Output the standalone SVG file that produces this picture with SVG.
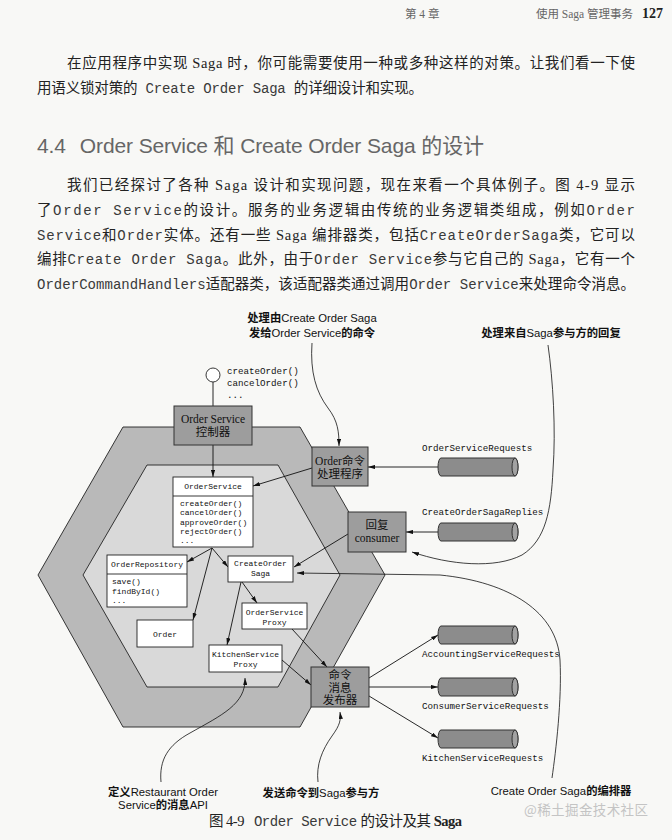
<svg xmlns="http://www.w3.org/2000/svg" width="672" height="840" viewBox="0 0 672 840">
<defs>
<marker id="ah" viewBox="0 0 10 6" refX="10" refY="3" markerWidth="7" markerHeight="4.4" orient="auto" markerUnits="userSpaceOnUse"><path d="M0,0 L10,3 L0,6 z" fill="#111"/></marker>
<style>
.body{font-family:"Liberation Serif","Noto Sans CJK SC",serif;font-size:14.5px;fill:#222}
.mono{font-family:"Liberation Mono",monospace;font-size:14px;fill:#3a3a3a}
.head{font-family:"Liberation Sans","Noto Sans CJK SC",sans-serif;font-size:21px;fill:#666}
.hdr{font-family:"Liberation Serif","Noto Sans CJK SC",serif;font-size:11.5px;fill:#666}
.pg{font-family:"Liberation Serif",serif;font-size:14px;font-weight:bold;fill:#222}
.lbl{font-family:"Liberation Sans","Noto Sans CJK SC",sans-serif;font-size:11.3px;fill:#111;text-anchor:middle}
.cj{font-weight:bold}
.bx{font-family:"Liberation Serif","Noto Sans CJK SC",serif;font-size:11.5px;fill:#111;text-anchor:middle}
.m8{font-family:"Liberation Mono",monospace;font-size:8px;fill:#111}
.m8c{font-family:"Liberation Mono",monospace;font-size:8px;fill:#111;text-anchor:middle}
.m9{font-family:"Liberation Mono",monospace;font-size:9.2px;fill:#111}
.dark{fill:#9d9d9d;stroke:#333;stroke-width:1}
.white{fill:#fff;stroke:#222;stroke-width:0.9}
.cyl{fill:#8c8c8c;stroke:#333;stroke-width:1}
.cap{fill:#a2a2a2;stroke:#333;stroke-width:1}
.ln{fill:none;stroke:#111;stroke-width:0.9}
.cv{fill:none;stroke:#111;stroke-width:0.8}
</style>
</defs>
<rect x="0" y="0" width="672" height="840" fill="#f8f8f6"/>

<g id="page-text">
<text class="hdr" x="405" y="18">第 4 章</text>
<text class="hdr" x="536" y="18">使用 Saga 管理事务</text>
<text class="pg" x="642" y="18">127</text>
<text class="body" x="67" y="68" textLength="568" lengthAdjust="spacing">在应用程序中实现 Saga 时，你可能需要使用一种或多种这样的对策。让我们看一下使</text>
<text class="body" x="37" y="93" textLength="386" lengthAdjust="spacing">用语义锁对策的<tspan class="mono"> Create Order Saga </tspan>的详细设计和实现。</text>
<text class="head" x="37" y="153" textLength="447" lengthAdjust="spacing">4.4<tspan dx="14">Order Service 和 Create Order Saga 的设计</tspan></text>
<text class="body" x="67" y="190" textLength="568" lengthAdjust="spacing">我们已经探讨了各种 Saga 设计和实现问题，现在来看一个具体例子。图 4-9 显示</text>
<text class="body" x="37" y="215" textLength="598" lengthAdjust="spacing">了<tspan class="mono">Order Service</tspan>的设计。服务的业务逻辑由传统的业务逻辑类组成，例如<tspan class="mono">Order</tspan></text>
<text class="body" x="37" y="240" textLength="598" lengthAdjust="spacing"><tspan class="mono">Service</tspan>和<tspan class="mono">Order</tspan>实体。还有一些 Saga 编排器类，包括<tspan class="mono">CreateOrderSaga</tspan>类，它可以</text>
<text class="body" x="37" y="264" textLength="598" lengthAdjust="spacing">编排<tspan class="mono">Create Order Saga</tspan>。此外，由于<tspan class="mono">Order Service</tspan>参与它自己的 Saga，它有一个</text>
<text class="body" x="37" y="289" textLength="598" lengthAdjust="spacing"><tspan class="mono">OrderCommandHandlers</tspan>适配器类，该适配器类通过调用<tspan class="mono">Order Service</tspan>来处理命令消息。</text>
</g>

<g id="hexagons">
<polygon points="123,427 300,427 385,575 300,727 123,727 38,575" fill="#b9b9b9" stroke="#222" stroke-width="0.9"/>
<polygon points="147,465 278,465 340,575 278,687 147,687 83,575" fill="#d9d9d9" stroke="#222" stroke-width="0.9"/>
</g>

<g id="connectors">
<line class="ln" x1="213" y1="382" x2="213" y2="406"/>
<line class="ln" x1="213" y1="445" x2="213" y2="477" marker-end="url(#ah)"/>
<line class="ln" x1="312" y1="468" x2="253" y2="486" marker-end="url(#ah)"/>
<line class="ln" x1="348" y1="534" x2="294" y2="567" marker-end="url(#ah)"/>
<line class="ln" x1="438" y1="467" x2="368" y2="467" marker-end="url(#ah)"/>
<line class="ln" x1="438" y1="532" x2="406" y2="532" marker-end="url(#ah)"/>
<line class="ln" x1="212" y1="548" x2="187" y2="562" marker-end="url(#ah)"/>
<line class="ln" x1="212" y1="548" x2="228" y2="567" marker-end="url(#ah)"/>
<line class="ln" x1="212" y1="548" x2="193" y2="620" marker-end="url(#ah)"/>
<line class="ln" x1="242" y1="582" x2="257" y2="603" marker-end="url(#ah)"/>
<line class="ln" x1="241" y1="582" x2="227" y2="645" marker-end="url(#ah)"/>
<line class="ln" x1="292" y1="629" x2="327" y2="667" marker-end="url(#ah)"/>
<line class="ln" x1="282" y1="660" x2="311" y2="685" marker-end="url(#ah)"/>
<line class="ln" x1="369" y1="678" x2="438" y2="635" marker-end="url(#ah)"/>
<line class="ln" x1="369" y1="687" x2="438" y2="687" marker-end="url(#ah)"/>
<line class="ln" x1="369" y1="696" x2="438" y2="738" marker-end="url(#ah)"/>
<path class="cv" d="M312,343 C310,372 316,392 328,408 C338,421 339,432 339,446" marker-end="url(#ah)"/>
<path class="cv" d="M548,345 C553,380 556,430 553,470 C551,510 546,540 522,555 C495,569 450,565 412,552" marker-end="url(#ah)"/>
<path class="cv" d="M552,778 C556,750 562,700 560,660 C557,612 510,582 440,575 L297,573" marker-end="url(#ah)"/>
<path class="cv" d="M161,782 C159,760 168,745 190,733 C222,715 246,704 245,678" marker-end="url(#ah)"/>
<path class="cv" d="M318,782 C316,765 322,750 332,736 C340,725 341,720 340,712" marker-end="url(#ah)"/>
</g>

<g id="api">
<circle cx="213" cy="375" r="7" fill="#fff" stroke="#222" stroke-width="0.9"/>
<text class="m9" x="227" y="374">createOrder()</text>
<text class="m9" x="227" y="386">cancelOrder()</text>
<text class="m9" x="227" y="398">...</text>
</g>

<g id="controller">
<rect class="dark" x="174" y="406" width="78" height="39"/>
<text class="bx" x="213" y="423">Order Service</text>
<text class="bx" x="213" y="436">控制器</text>
</g>

<g id="command-handler">
<rect class="dark" x="312" y="447" width="56" height="39"/>
<text class="bx" x="340" y="465">Order命令</text>
<text class="bx" x="340" y="478">处理程序</text>
</g>

<g id="reply-consumer">
<rect class="dark" x="348" y="512" width="58" height="40"/>
<text class="bx" x="377" y="529">回复</text>
<text class="bx" x="377" y="542">consumer</text>
</g>

<g id="publisher">
<rect class="dark" x="311" y="667" width="58" height="40" fill="#979797"/>
<text class="bx" x="340" y="679">命令</text>
<text class="bx" x="340" y="691.5">消息</text>
<text class="bx" x="340" y="704">发布器</text>
</g>

<g id="order-service">
<rect class="white" x="173" y="477" width="80" height="70"/>
<line x1="173" y1="496" x2="253" y2="496" stroke="#222" stroke-width="0.9"/>
<text class="m8c" x="213" y="489">OrderService</text>
<text class="m8" x="180" y="506">createOrder()</text>
<text class="m8" x="180" y="515">cancelOrder()</text>
<text class="m8" x="180" y="524.5">approveOrder()</text>
<text class="m8" x="180" y="534">rejectOrder()</text>
<text class="m8" x="180" y="543">...</text>
</g>

<g id="order-repository">
<rect class="white" x="107" y="555" width="80" height="52"/>
<line x1="107" y1="574" x2="187" y2="574" stroke="#222" stroke-width="0.9"/>
<text class="m8c" x="147" y="567">OrderRepository</text>
<text class="m8" x="112" y="584">save()</text>
<text class="m8" x="112" y="594">findById()</text>
<text class="m8" x="112" y="603">...</text>
</g>

<g id="create-order-saga">
<rect class="white" x="228" y="556" width="65" height="26"/>
<text class="m8c" x="260.5" y="566">CreateOrder</text>
<text class="m8c" x="260.5" y="576">Saga</text>
</g>

<g id="order">
<rect class="white" x="137" y="620" width="56" height="27"/>
<text class="m8c" x="165" y="637">Order</text>
</g>

<g id="order-service-proxy">
<rect class="white" x="242" y="603" width="65" height="26"/>
<text class="m8c" x="274.5" y="615">OrderService</text>
<text class="m8c" x="274.5" y="625">Proxy</text>
</g>

<g id="kitchen-service-proxy">
<rect class="white" x="209" y="645" width="73" height="27"/>
<text class="m8c" x="245.5" y="657">KitchenService</text>
<text class="m8c" x="245.5" y="667">Proxy</text>
</g>

<g id="queue-order-service-requests">
<path class="cyl" d="M441,458 L515,458 A3,9 0 0 1 515,476 L441,476 A3,9 0 0 1 441,458 Z"/>
<ellipse class="cap" cx="515" cy="467" rx="3" ry="9"/>
<text class="m9" x="422" y="451">OrderServiceRequests</text>
</g>
<g id="queue-create-order-saga-replies">
<path class="cyl" d="M441,523 L515,523 A3,9 0 0 1 515,541 L441,541 A3,9 0 0 1 441,523 Z"/>
<ellipse class="cap" cx="515" cy="532" rx="3" ry="9"/>
<text class="m9" x="422" y="515">CreateOrderSagaReplies</text>
</g>
<g id="queue-accounting-service-requests">
<path class="cyl" d="M441,626 L515,626 A3,9 0 0 1 515,644 L441,644 A3,9 0 0 1 441,626 Z"/>
<ellipse class="cap" cx="515" cy="635" rx="3" ry="9"/>
<text class="m9" x="422" y="657">AccountingServiceRequests</text>
</g>
<g id="queue-consumer-service-requests">
<path class="cyl" d="M441,678 L515,678 A3,9 0 0 1 515,696 L441,696 A3,9 0 0 1 441,678 Z"/>
<ellipse class="cap" cx="515" cy="687" rx="3" ry="9"/>
<text class="m9" x="422" y="709">ConsumerServiceRequests</text>
</g>
<g id="queue-kitchen-service-requests">
<path class="cyl" d="M441,730 L515,730 A3,9 0 0 1 515,748 L441,748 A3,9 0 0 1 441,730 Z"/>
<ellipse class="cap" cx="515" cy="739" rx="3" ry="9"/>
<text class="m9" x="422" y="761">KitchenServiceRequests</text>
</g>

<g id="callouts">
<text class="lbl" x="312" y="322"><tspan class="cj">处理由</tspan>Create Order Saga</text>
<text class="lbl" x="312" y="337"><tspan class="cj">发给</tspan>Order Service<tspan class="cj">的命令</tspan></text>
<text class="lbl" x="551" y="337"><tspan class="cj">处理来自</tspan>Saga<tspan class="cj">参与方的回复</tspan></text>
<text class="lbl" x="163" y="796"><tspan class="cj">定义</tspan>Restaurant Order</text>
<text class="lbl" x="163" y="809">Service<tspan class="cj">的消息</tspan>API</text>
<text class="lbl" x="321" y="797"><tspan class="cj">发送命令到</tspan>Saga<tspan class="cj">参与方</tspan></text>
<text class="lbl" x="561" y="795">Create Order Saga<tspan class="cj">的编排器</tspan></text>
</g>

<g id="caption">
<text class="body" x="209" y="826" font-size="13" textLength="253" lengthAdjust="spacing">图 4-9<tspan class="mono" font-size="13" dx="10">Order Service</tspan><tspan dx="4">的设计及其 </tspan><tspan font-weight="bold">Saga</tspan></text>
<text x="524" y="815" font-family="Noto Sans CJK SC, sans-serif" font-size="13.5" fill="#c4c4c4" textLength="124" lengthAdjust="spacing">@稀土掘金技术社区</text>
</g>
</svg>
